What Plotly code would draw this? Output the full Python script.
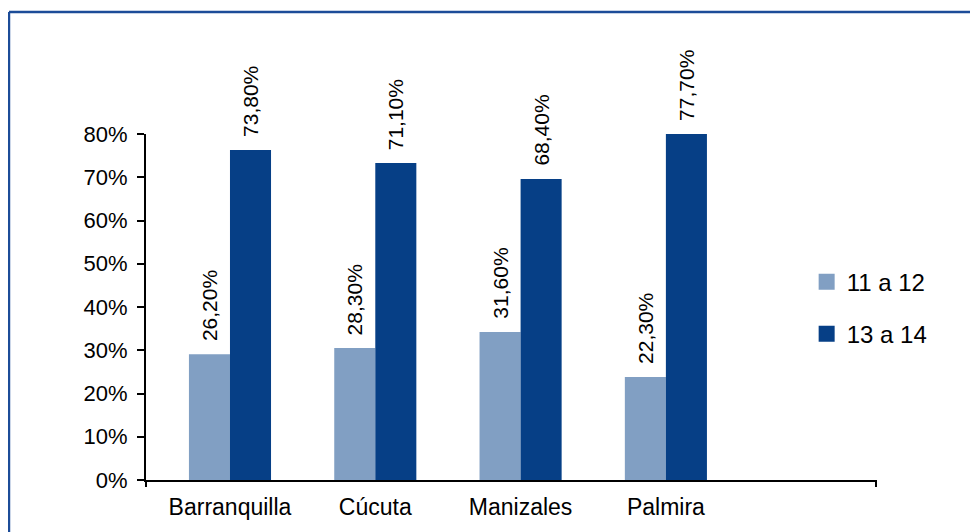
import plotly.graph_objects as go

categories = ["Barranquilla", "Cúcuta", "Manizales", "Palmira"]
series_names = ["11 a 12", "13 a 14"]
# bar heights as drawn in the picture (percent)
values_11_12 = [29.1, 30.5, 34.2, 23.8]
values_13_14 = [76.3, 73.3, 69.6, 80.0]
# printed data labels
labels_11_12 = ["26,20%", "28,30%", "31,60%", "22,30%"]
labels_13_14 = ["73,80%", "71,10%", "68,40%", "77,70%"]
y_tick_values = [0, 10, 20, 30, 40, 50, 60, 70, 80]
y_tick_labels = ["0%", "10%", "20%", "30%", "40%", "50%", "60%", "70%", "80%"]

colors = ["#819fc3", "#063f86"]
FONT = "Liberation Sans, Arial, sans-serif"

fig = go.Figure()
series_vals = [values_11_12, values_13_14]
series_labels = [labels_11_12, labels_13_14]

for i, name in enumerate(series_names):
    fig.add_trace(go.Bar(
        x=categories, y=series_vals[i], name=name,
        marker=dict(color=colors[i], line=dict(width=0)),
        showlegend=False,
    ))
    # legend entry with larger square swatch
    fig.add_trace(go.Scatter(
        x=[None], y=[None], mode="markers", name=name,
        marker=dict(symbol="square", size=16, color=colors[i]),
        legendgroup=name, showlegend=True,
    ))

annotations = []
for i in range(2):
    shift = -20.5 if i == 0 else 20.5
    for j, cat in enumerate(categories):
        annotations.append(dict(
            x=cat, y=series_vals[i][j], xref="x", yref="y",
            text=series_labels[i][j], showarrow=False, textangle=-90,
            xanchor="center", yanchor="bottom", xshift=shift, yshift=11,
            font=dict(family=FONT, size=21, color="#000000"),
        ))

fig.update_layout(
    width=978, height=532,
    margin=dict(l=138, r=110, t=126, b=60),
    paper_bgcolor="white", plot_bgcolor="white",
    barmode="group", bargap=0.435, bargroupgap=0,
    font=dict(family=FONT, color="#000000"),
    annotations=annotations,
    legend=dict(
        x=0.905, y=0.497, xanchor="left", yanchor="middle",
        font=dict(family=FONT, size=24, color="#000000"),
        itemsizing="trace", traceorder="grouped", tracegroupgap=18,
        bgcolor="rgba(0,0,0,0)",
    ),
    xaxis=dict(
        type="category", range=[-0.578, 4.446],
        showline=True, linecolor="#000000", linewidth=2,
        ticks="", showgrid=False, zeroline=False,
        tickfont=dict(family=FONT, size=23, color="#000000"),
        ticklabelstandoff=5,
    ),
    yaxis=dict(
        range=[0, 80], tickmode="array",
        tickvals=y_tick_values, ticktext=y_tick_labels,
        showline=True, linecolor="#000000", linewidth=2,
        ticks="outside", ticklen=7, tickwidth=2, tickcolor="#000000",
        showgrid=False, zeroline=False, ticklabelstandoff=5,
        tickfont=dict(family=FONT, size=22, color="#000000"),
    ),
    shapes=[
        dict(type="line", xref="paper", yref="paper",
             x0=-0.1877, x1=1.2, y0=1.3526, y1=1.3526,
             line=dict(color="#1c4c98", width=2.5)),
        dict(type="line", xref="paper", yref="paper",
             x0=-0.1877, x1=-0.1877, y0=1.3526, y1=-0.2,
             line=dict(color="#1c4c98", width=2.5)),
        dict(type="line", xref="paper", yref="paper",
             x0=0, x1=0, y0=0, y1=-0.02,
             line=dict(color="#000000", width=2)),
        dict(type="line", xref="paper", yref="paper",
             x0=1, x1=1, y0=0, y1=-0.02,
             line=dict(color="#000000", width=2)),
    ],
)

fig.write_html("out.html")
